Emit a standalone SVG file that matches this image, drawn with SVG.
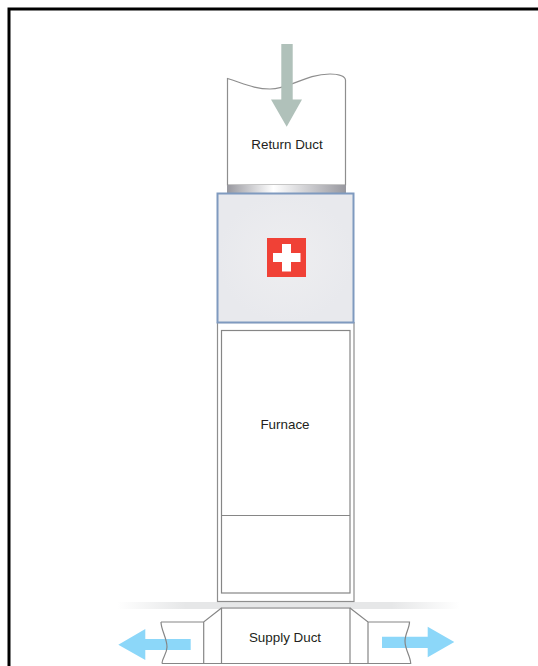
<svg xmlns="http://www.w3.org/2000/svg" width="538" height="666" viewBox="0 0 538 666">
<defs>
<linearGradient id="collar" x1="0" x2="1" y1="0" y2="0"><stop offset="0" stop-color="#98989f"/><stop offset="0.39" stop-color="#ffffff"/><stop offset="1" stop-color="#98989f"/></linearGradient>
<linearGradient id="shadow" x1="0" x2="1" y1="0" y2="0"><stop offset="0" stop-color="#e6e7e8" stop-opacity="0"/><stop offset="0.2" stop-color="#e6e7e8"/><stop offset="0.8" stop-color="#e6e7e8"/><stop offset="1" stop-color="#e6e7e8" stop-opacity="0"/></linearGradient>
<radialGradient id="coilFill"><stop offset="0" stop-color="#eeeef0"/><stop offset="1" stop-color="#e8e9ed"/></radialGradient>
</defs>
<style>
.l{fill:#fff;stroke:#8e8e8e;stroke-width:1.2}
.n{fill:none;stroke:#868686;stroke-width:1.2}
.a{fill:#8cd7f9}
text{font-family:"Liberation Sans",Arial,sans-serif;font-size:13.4px;fill:#231f20;text-anchor:middle}
</style>
<rect width="538" height="666" fill="#fff"/>
<path d="M9 666V9H538" fill="none" stroke="#000" stroke-width="3"/>
<rect x="117" y="602" width="343" height="7" fill="url(#shadow)"/>
<g id="return-duct">
<path class="l" d="M227.500 78.500C245 84 255 89 270 89C290 89 305 74 330 74C338 74 345 76 345.500 80V185H227.500Z"/>
<rect x="227" y="185" width="119" height="8" fill="url(#collar)"/>
<text x="287" y="149">Return Duct</text>
</g>
<g id="furnace">
<rect class="l" x="217.500" y="322.500" width="136.500" height="279"/>
<rect class="n" x="221.500" y="330.500" width="128.500" height="262.500"/>
<path class="n" d="M221.500 515.500H350"/>
<text x="285" y="429">Furnace</text>
</g>
<g id="coil">
<rect x="217.500" y="193.500" width="136" height="129" fill="url(#coilFill)" stroke="#7f9abf" stroke-width="2"/>
<rect x="267" y="238" width="39" height="39" fill="#f04136"/>
<path d="M273 253H282V244H291V253H300.500V262H291V271.500H282V262H273Z" fill="#fff"/>
</g>
<g id="connectors">
<path d="M281.300 44H292.700V99.500H302L286.700 126.700L271 99.500H281.300Z" fill="#b0c1ba"/>
<path class="a" d="M190.700 639H145.300V629L118.300 644.700L145.300 660V650H190.700Z"/>
<path class="a" d="M382 636.700H427.700V626.700L454.300 642L427.700 657.300V648H382Z"/>
</g>
<g id="supply-duct">
<path class="n" d="M161 622H203.700L221.500 608M162 663.500H350M203.700 622V663.500"/>
<path class="n" d="M161 622C161 630 167 638 167 647C167 654 162 658 162 663.500"/>
<path class="n" d="M221.500 608H350V663.500H221.500Z"/>
<path class="n" d="M350 608L368 622H409.500C409.500 628 405 634 405 641C405 650 410.500 656 410.700 663.500H350M368 622V663.500"/>
<text x="285" y="642">Supply Duct</text>
</g>
</svg>
